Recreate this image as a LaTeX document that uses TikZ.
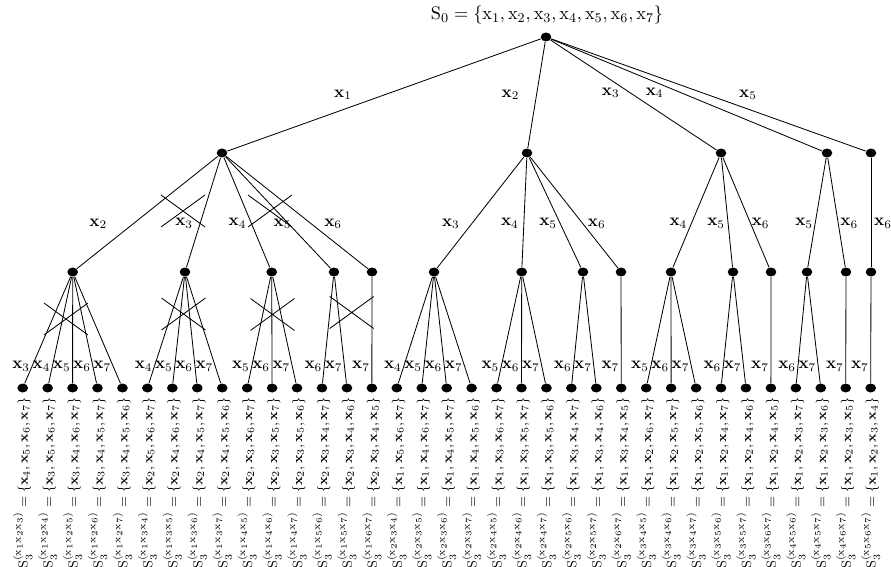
\documentclass[tikz,border=0pt]{standalone}
\usetikzlibrary{positioning,shapes.geometric}

\begin{document}
\begin{tikzpicture}[x=0.6pt, y=-0.6pt, line width=0.5pt,
    dot/.style={ellipse, fill, inner sep=0pt, minimum width=6.4pt, minimum height=5.4pt},
    lbl/.style={inner sep=1pt},
    leaf/.style={rotate=90, anchor=east, inner sep=2.5pt, font=\fontsize{8.5}{10}\selectfont}]
  \useasboundingbox (0,0) rectangle (891,567);

  \node (title) at (547,15) {\fontsize{11}{13}\selectfont $\mathrm{S_0 = \{x_1, x_2, x_3, x_4, x_5, x_6, x_7\}}$};
  \node[dot] (root) at (546,37) {};

  \node[dot] (n1) at (222,153) {};
  \node[dot] (n2) at (527,153) {};
  \node[dot] (n3) at (721,153) {};
  \node[dot] (n4) at (827,153) {};
  \node[dot] (n5) at (871,153) {};
  \draw (root) -- node[lbl, pos=.5, xshift=-24.6pt] {$\mathbf{x}_1$} (n1);
  \draw (root) -- node[lbl, pos=.5, xshift=-15.6pt] {$\mathbf{x}_2$} (n2);
  \draw (root) -- node[lbl, pos=.48, xshift=-11.7pt] {$\mathbf{x}_3$} (n3);
  \draw (root) -- node[lbl, pos=.48, xshift=-15.9pt] {$\mathbf{x}_4$} (n4);
  \draw (root) -- node[lbl, pos=.5, xshift=23.7pt] {$\mathbf{x}_5$} (n5);

  % second choice
  \foreach \a/\b/\x/\dx in {1/2/72.7/-21, 1/3/185/-9.6, 1/4/271.7/-8.4, 1/5/334/-3.6, 1/6/372/13.2,
      2/3/434/-12.6, 2/4/521.7/-8.4, 2/5/583/-7.2, 2/6/621/8.4,
      3/4/671/-7.8, 3/5/733/-7.2, 3/6/771/6,
      4/5/807/-6.6, 4/6/846/6.6, 5/6/871/7.2} {
    \node[dot] (n\a\b) at (\x,272) {};
    \draw (n\a) -- node[lbl, pos=.6, xshift=\dx pt] {$\mathbf{x}_\b$} (n\a\b);
  }

  % third choice and the sets left over
  \foreach \u/\v/\w/\m/\n/\o/\p [count=\i from 0] in {1/2/3/4/5/6/7, 1/2/4/3/5/6/7, 1/2/5/3/4/6/7,
      1/2/6/3/4/5/7, 1/2/7/3/4/5/6, 1/3/4/2/5/6/7, 1/3/5/2/4/6/7, 1/3/6/2/4/5/7, 1/3/7/2/4/5/6,
      1/4/5/2/3/6/7, 1/4/6/2/3/5/7, 1/4/7/2/3/5/6, 1/5/6/2/3/4/7, 1/5/7/2/3/4/6, 1/6/7/2/3/4/5,
      2/3/4/1/5/6/7, 2/3/5/1/4/6/7, 2/3/6/1/4/5/7, 2/3/7/1/4/5/6, 2/4/5/1/3/6/7, 2/4/6/1/3/5/7,
      2/4/7/1/3/5/6, 2/5/6/1/3/4/7, 2/5/7/1/3/4/6, 2/6/7/1/3/4/5, 3/4/5/1/2/6/7, 3/4/6/1/2/5/7,
      3/4/7/1/2/5/6, 3/5/6/1/2/4/7, 3/5/7/1/2/4/6, 3/6/7/1/2/4/5, 4/5/6/1/2/3/7, 4/5/7/1/2/3/6,
      4/6/7/1/2/3/5, 5/6/7/1/2/3/4} {
    \node[dot] (l\i) at ({22.7+24.94*\i},388) {};
    \draw (n\u\v) -- node[lbl, pos=.84, left] {$\mathbf{x}_\w$} (l\i);
    \node[leaf] (t\i) at (l\i.south) {$\mathrm{S}_3^{(\mathrm{x}_\u\mathrm{x}_\v\mathrm{x}_\w)} = \{\mathbf{x}_\m, \mathbf{x}_\n, \mathbf{x}_\o, \mathbf{x}_\p\}$};
  }

  % crossed out branches
  \foreach \cx/\cy in {183/211, 270/211, 66/319, 183.5/314, 272.5/314.5, 351.7/312.5}
    \draw (\cx-22,\cy-16) -- (\cx+22,\cy+16) (\cx+22,\cy-16) -- (\cx-22,\cy+16);
\end{tikzpicture}
\end{document}
